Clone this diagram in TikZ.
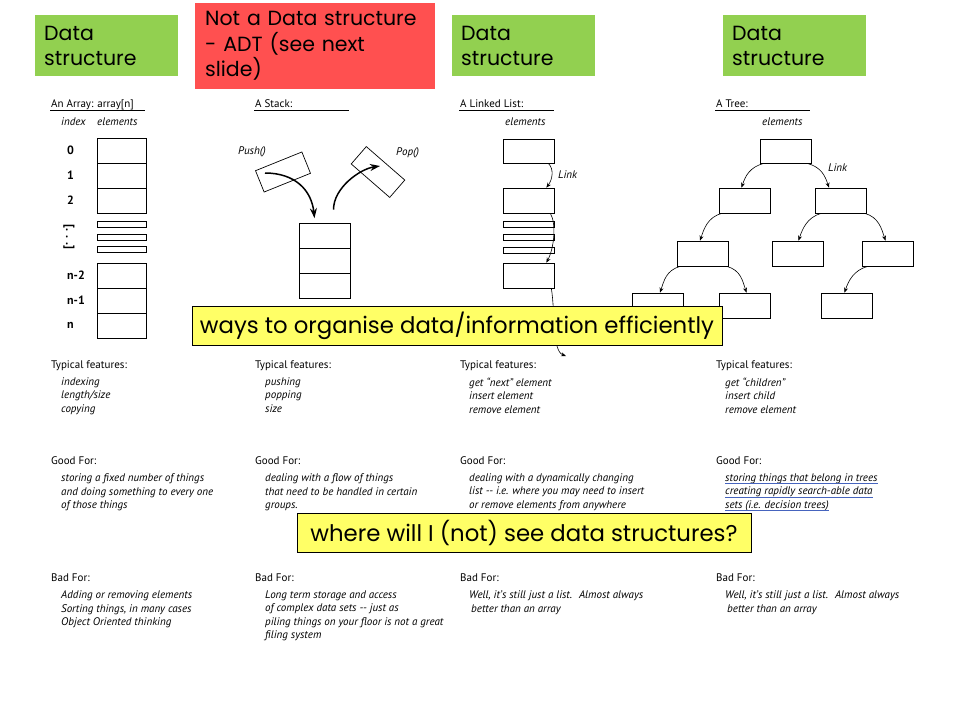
\documentclass[tikz,border=0pt]{standalone}
\usepackage{fontspec}
\setmainfont{PT Sans}
\newfontfamily\comicfont{Poppins}
\usetikzlibrary{arrows.meta}
\definecolor{dsgreen}{RGB}{146,208,80}
\definecolor{adtred}{RGB}{255,80,80}
\definecolor{noteyellow}{RGB}{255,255,102}
\definecolor{linkblue}{RGB}{70,100,190}

\tikzset{
  greenbox/.style={fill=dsgreen, anchor=north west, minimum width=143pt, minimum height=61pt,
    text width=125pt, inner xsep=9pt, align=left, font=\comicfont\fontsize{20.5}{25.5}\selectfont},
  redbox/.style={greenbox, fill=adtred, minimum width=240pt, minimum height=86pt, text width=220pt, inner xsep=10pt},
  notebox/.style={draw, line width=0.8pt, fill=noteyellow, minimum height=39pt, inner sep=0pt,
    font=\comicfont\fontsize{22.8}{26}\selectfont},
  cell/.style={draw, line width=0.7pt, minimum width=49pt, minimum height=25pt, inner sep=0pt},
  thincell/.style={cell, minimum height=6pt},
  title/.style={anchor=base west, inner sep=0pt, font=\fontsize{11}{12}\selectfont},
  sub/.style={anchor=base west, inner sep=0pt, font=\itshape\fontsize{11}{12}\selectfont},
  idxlabel/.style={anchor=west, inner sep=0pt, font=\bfseries\fontsize{12}{12}\selectfont},
  head/.style={anchor=base west, inner sep=0pt, font=\fontsize{11}{13.5}\selectfont},
  items/.style={anchor=north west, inner sep=0pt, align=left, font=\itshape\fontsize{11}{13.5}\selectfont},
  link/.style={line width=0.6pt, -{Stealth[length=5pt,width=4pt]}},
  bigarrow/.style={line width=1.5pt, -{Stealth[length=10pt,width=7pt]}}
}

\begin{document}
\begin{tikzpicture}[x=1pt,y=-1pt]
\useasboundingbox (0,0) rectangle (960,720);

% labels along the top
\node[greenbox] (dsarray) at (35,15) {Data\\structure};
\node[redbox] (adt) at (195,3) {Not a Data structure\\- ADT (see next\\slide)};
\node[greenbox] (dslist) at (452,15) {Data\\structure};
\node[greenbox] (dstree) at (723,15) {Data\\structure};

% the array
\node[title] (arrtitle) at (51,107) {An Array: array[n]};
\draw[line width=0.6pt] (arrtitle.base west) ++(-1,3.5) -- ++(95,0);
\node[sub] (arridx) at (61,125) {index};
\node[sub] (arrelem) at (97,125) {elements};
\foreach \nm/\yy/\lab in {a0/150.5/0, a1/175.5/1, a2/200.5/2, an2/275.5/n-2, an1/300.5/n-1, an/325.5/n} {
  \node[cell] (\nm) at (121.5,\yy) {};
  \node[idxlabel] (\nm lab) at (67,\yy) {\lab};
}
\node[thincell] (ad1) at (121.5,224) {};
\node[thincell] (ad2) at (121.5,237) {};
\node[thincell] (ad3) at (121.5,249.5) {};
\node[idxlabel, anchor=center, rotate=-90] (adots) at (69,237) {[. . .]};

% the stack
\node[title] (stktitle) at (255,107) {A Stack:};
\draw[line width=0.6pt] (stktitle.base west) ++(-1,3.5) -- ++(95,0);
\node[sub] (pushlab) at (238,154) {Push()};
\node[sub] (poplab) at (396,155) {Pop()};
\node[cell, minimum width=50pt, minimum height=23pt, rotate=22] (pushbox) at (283,172) {};
\node[cell, minimum width=51pt, minimum height=23pt, rotate=-41] (popbox) at (378,172) {};
\node[cell, minimum width=51pt] (s1) at (324.5,235.5) {};
\node[cell, minimum width=51pt] (s2) at (324.5,260.5) {};
\node[cell, minimum width=51pt] (s3) at (324.5,285.5) {};
\coordinate (pushstart) at (265,173);
\coordinate (popend) at (380,166);
\draw[bigarrow] (pushstart) .. controls +(30,0) and +(-3,-28) .. ([xshift=-10pt,yshift=4.5pt]s1.north);
\draw[bigarrow] ([xshift=9pt,yshift=13pt]s1.north) .. controls +(0,-22) and +(-20,3) .. (popend);

% the linked list
\node[title] (lsttitle) at (460,107) {A Linked List:};
\draw[line width=0.6pt] (lsttitle.base west) ++(-1,3.5) -- ++(95,0);
\node[sub] (lstelem) at (505,125) {elements};
\node[cell, minimum width=51pt, minimum height=24pt] (c1) at (528.5,151) {};
\node[cell, minimum width=51pt] (c2) at (528.5,200.5) {};
\node[thincell, minimum width=51pt] (cd1) at (528.5,224.5) {};
\node[thincell, minimum width=51pt] (cd2) at (528.5,237) {};
\node[thincell, minimum width=51pt] (cd3) at (528.5,250) {};
\node[cell, minimum width=51pt] (c3) at (528.5,275.5) {};
\node[sub] (lstlink) at (558,178) {Link};
\coordinate (lstend) at (566,356);
\draw[link] ([xshift=-6pt]c1.south east) .. controls +(6,6) and +(6,-8) .. ([xshift=-8pt]c2.north east);
\draw[link] ([xshift=-4pt]c2.south east) .. controls +(6,10) and +(8,-15) .. ([xshift=-8pt]c3.north east);
\draw[link] ([xshift=-3pt]c3.south east) .. controls +(4,25) and +(-14,-5) .. (lstend);

% the tree
\node[title] (treetitle) at (716,107) {A Tree:};
\draw[line width=0.6pt] (treetitle.base west) ++(-1,3.5) -- ++(95,0);
\node[sub] (treeelem) at (762,125) {elements};
\node[sub] (treelink) at (828,171) {Link};
\node[cell, minimum width=51pt, minimum height=24pt] (root) at (785.5,151) {};
\node[cell, minimum width=51pt] (tl) at (744.5,200.5) {};
\node[cell, minimum width=51pt] (tr) at (841,200.5) {};
\node[cell, minimum width=51pt] (tla) at (703,253.5) {};
\node[cell, minimum width=51pt] (tlb) at (797.5,253.5) {};
\node[cell, minimum width=51pt] (tlc) at (887.5,253.5) {};
\node[cell, minimum width=51pt] (tma) at (658,305.5) {};
\node[cell, minimum width=51pt] (tmb) at (744.5,305.5) {};
\node[cell, minimum width=51pt] (tmc) at (846.5,305.5) {};
\draw[link] ([xshift=4pt]root.south west) .. controls +(-14,4) and +(4,-12) .. ([xshift=-3pt]tl.north);
\draw[link] ([xshift=-4pt]root.south east) .. controls +(14,4) and +(-4,-12) .. ([xshift=-12pt]tr.north);
\draw[link] ([xshift=3pt]tl.south west) .. controls +(-14,4) and +(4,-12) .. ([xshift=-3pt]tla.north);
\draw[link] ([xshift=6pt]tr.south west) .. controls +(-14,4) and +(4,-12) .. ([xshift=1pt]tlb.north);
\draw[link] ([xshift=-2pt]tr.south east) .. controls +(14,4) and +(-4,-12) .. ([xshift=-2pt]tlc.north);
\draw[link] ([xshift=3pt]tla.south west) .. controls +(-14,4) and +(4,-12) .. ([xshift=2pt]tma.north);
\draw[link] ([xshift=-2pt]tla.south east) .. controls +(14,4) and +(-4,-12) .. ([xshift=2pt]tmb.north);
\draw[link] ([xshift=6pt]tlc.south west) .. controls +(-14,4) and +(4,-12) .. ([xshift=-2pt]tmc.north);

% typical features
\node[head] (arrtf) at (51,368) {Typical features:};
\node[items] (arrtfi) at (61,377.5) {indexing\\length/size\\copying};
\node[head] (stktf) at (255,368) {Typical features:};
\node[items] (stktfi) at (265,377.5) {pushing\\popping\\size};
\node[head] (lsttf) at (460,368) {Typical features:};
\node[items] (lsttfi) at (469,377.5) {get “next” element\\insert element\\remove element};
\node[head] (treetf) at (716,368) {Typical features:};
\node[items] (treetfi) at (725,377.5) {get “children”\\insert child\\remove element};

% good for
\node[head] (arrgf) at (51,464) {Good For:};
\node[items] (arrgfi) at (61,473.5) {storing a fixed number of things\\and doing something to every one\\of those things};
\node[head] (stkgf) at (255,464) {Good For:};
\node[items] (stkgfi) at (265,473.5) {dealing with a flow of things\\that need to be handled in certain\\groups.};
\node[head] (lstgf) at (460,464) {Good For:};
\node[items] (lstgfi) at (469,473.5) {dealing with a dynamically changing\\list -{}- i.e. where you may need to insert\\or remove elements from anywhere};
\node[head] (treegf) at (716,464) {Good For:};
\foreach \t [count=\i] in {storing things that belong in trees, creating rapidly search-able data, {sets (i.e. decision trees)}} {
  \node[sub] (treegf\i) at (725,467.5+13.5*\i) {\t};
  \draw[linkblue, line width=0.5pt] ([yshift=-2.5pt]treegf\i.base west) -- ([yshift=-2.5pt]treegf\i.base east);
}

% bad for
\node[head] (arrbf) at (51,581) {Bad For:};
\node[items] (arrbfi) at (61,590.5) {Adding or removing elements\\Sorting things, in many cases\\Object Oriented thinking};
\node[head] (stkbf) at (255,581) {Bad For:};
\node[items] (stkbfi) at (265,590.5) {Long term storage and access\\of complex data sets -{}- just as\\piling things on your floor is not a great\\filing system};
\node[head] (lstbf) at (460,581) {Bad For:};
\node[items] (lstbfi) at (469,590.5) {Well, it’s still just a list. \ Almost always\\\hspace{2pt}better than an array};
\node[head] (treebf) at (716,581) {Bad For:};
\node[items] (treebfi) at (725,590.5) {Well, it’s still just a list. \ Almost always\\\hspace{2pt}better than an array};

% the two notes on top
\node[notebox, minimum width=530pt] (organise) at (457,325.5) {ways to organise data/information efficiently};
\node[notebox, minimum width=454pt] (whereds) at (524,532.5) {where will I (not) see data structures?};
\end{tikzpicture}
\end{document}
